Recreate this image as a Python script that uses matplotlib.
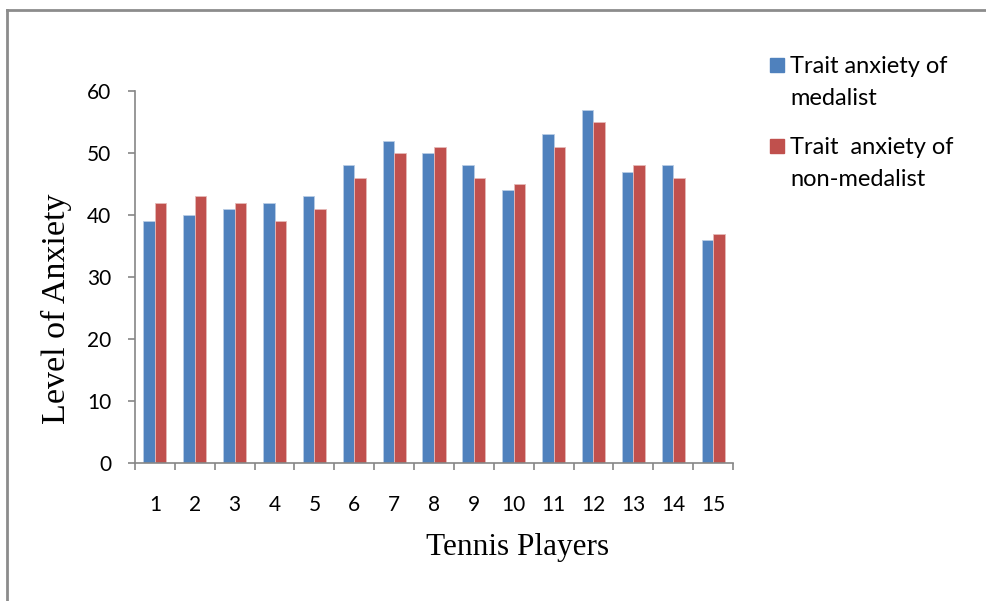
import numpy as np
import matplotlib
matplotlib.use("Agg")
import matplotlib.pyplot as plt
from matplotlib.lines import Line2D
from matplotlib.patches import Rectangle

# players on the x axis and the two anxiety series
players = [str(i) for i in range(1, 16)]
medalist = [39, 40, 41, 42, 43, 48, 52, 50, 48, 44, 53, 57, 47, 48, 36]
non_medalist = [42, 43, 42, 39, 41, 46, 50, 51, 46, 45, 51, 55, 48, 46, 37]
yticks = [0, 10, 20, 30, 40, 50, 60]
series_names = ['Trait anxiety of\nmedalist', 'Trait  anxiety of\nnon-medalist']

blue = '#4f81bd'
red = '#c0504d'
axis_grey = '#868686'
sans = ['Lato', 'DejaVu Sans']
serif = ['Liberation Serif', 'DejaVu Serif']

W, H = 986.0, 601.0
fig = plt.figure(figsize=(9.86, 6.01), dpi=100)
ax = fig.add_axes([135/W, 1 - 463/H, (733 - 135)/W, (463 - 91)/H])

x = np.arange(len(players))
w = 0.29
ax.bar(x - w/2, medalist, w, color=blue, edgecolor='#b9cde5', linewidth=0.6)
ax.bar(x + w/2, non_medalist, w, color=red, edgecolor='#e6b9b8', linewidth=0.6)

ax.set_xlim(-0.5, len(players) - 0.5)
ax.set_ylim(0, 60)
ax.set_yticks(yticks)
ax.set_yticklabels([str(v) for v in yticks], fontsize=15, family=sans)

# ticks sit on the category boundaries, labels in the middle
ax.set_xticks(np.arange(-0.5, len(players), 1.0))
ax.set_xticklabels([])
ax.set_xticks(x, minor=True)
ax.set_xticklabels(players, minor=True, fontsize=15, family=sans)
ax.tick_params(axis='x', which='major', direction='out', length=5, width=1.2, color=axis_grey)
ax.tick_params(axis='x', which='minor', length=0, pad=23)
ax.tick_params(axis='y', direction='out', length=5, width=1.2, color=axis_grey, pad=12)

for side in ['top', 'right']:
    ax.spines[side].set_visible(False)
for side in ['left', 'bottom']:
    ax.spines[side].set_color(axis_grey)
    ax.spines[side].set_linewidth(1.2)

ax.set_xlabel('Tennis Players', fontsize=22.5, family=serif)
ax.set_ylabel('Level of Anxiety', fontsize=24.5, family=serif)
ax.xaxis.set_label_coords(0.640, -0.188)
ax.yaxis.set_label_coords(-0.105, 0.414)

# legend drawn by hand so the key square lines up with the first text line
for color, name, top in zip([blue, red], series_names, [58, 139]):
    fig.add_artist(Rectangle((770/W, 1 - (top + 14)/H), 14/W, 14/H,
                             transform=fig.transFigure, color=color))
    fig.text(790/W, 1 - (top - 2)/H, name, va='top', ha='left',
             fontsize=17, family=sans, linespacing=1.65)

# outer border, only top and left show in the crop
fig.add_artist(Line2D([7/W, 7/W], [0, 1 - 10/H], transform=fig.transFigure,
                      color='#8c8c8c', linewidth=2))
fig.add_artist(Line2D([7/W, 1], [1 - 10/H, 1 - 10/H], transform=fig.transFigure,
                      color='#8c8c8c', linewidth=2))

fig.savefig('out.png', dpi=100)
